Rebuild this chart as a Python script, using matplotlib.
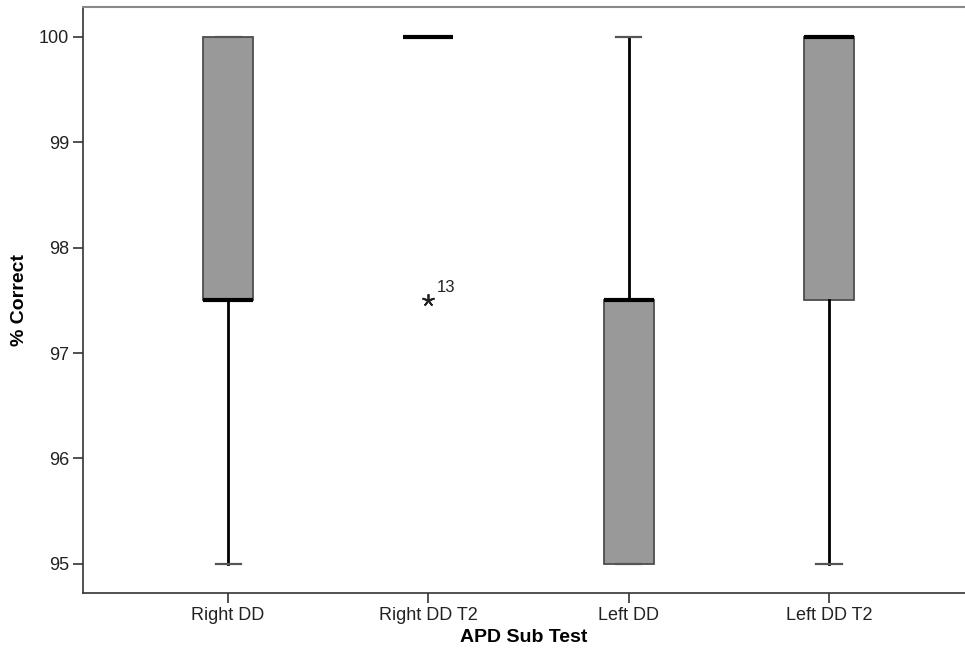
import matplotlib
matplotlib.use("Agg")
import matplotlib.pyplot as plt

# box statistics (% correct)
groups = ["Right DD", "Right DD T2", "Left DD", "Left DD T2"]
q1 = [97.5, 100.0, 95.0, 97.5]
median = [97.5, 100.0, 97.5, 100.0]
q3 = [100.0, 100.0, 97.5, 100.0]
whis_lo = [95.0, 100.0, 95.0, 95.0]
whis_hi = [100.0, 100.0, 100.0, 100.0]
fliers = [[], [97.5], [], []]
flier_labels = [[], ["13"], [], []]

plt.rcParams['font.family'] = ['Liberation Sans', 'DejaVu Sans']

fig = plt.figure(figsize=(9.65, 6.48), dpi=100)
ax = fig.add_axes([83 / 965, 1 - 593 / 648, 882 / 965, 586 / 648])

stats = []
for i, g in enumerate(groups):
    stats.append(dict(label=g, q1=q1[i], med=median[i], q3=q3[i],
                      whislo=whis_lo[i], whishi=whis_hi[i], fliers=fliers[i]))

pos = list(range(1, len(groups) + 1))
ax.bxp(stats, positions=pos, widths=0.25, capwidths=0.125,
       patch_artist=True, showfliers=True,
       boxprops=dict(facecolor="#999999", edgecolor="#4d4d4d", linewidth=1.3),
       medianprops=dict(color="black", linewidth=3, solid_capstyle="butt"),
       whiskerprops=dict(color="black", linewidth=2),
       capprops=dict(color="#555555", linewidth=1.6),
       flierprops=dict(marker=(5, 2, 0), markerfacecolor="black", markeredgecolor="#222222",
                       markeredgewidth=1.3, markersize=9, linestyle="none"))

for i, vals in enumerate(fliers):
    for v, lab in zip(vals, flier_labels[i]):
        ax.annotate(lab, (pos[i], v), xytext=(6, 4), textcoords="offset points",
                    fontsize=12, color="#222222", va="bottom", ha="left")

ax.set_xlim(0.276, 4.679)
ax.set_ylim(94.725, 100.28)
ax.set_yticks([95, 96, 97, 98, 99, 100])
ax.set_xticks(pos)
ax.set_xticklabels(groups)

ax.spines["right"].set_visible(False)
ax.spines["top"].set_color("#888888")
ax.spines["top"].set_linewidth(1.5)
for s in ("left", "bottom"):
    ax.spines[s].set_color("#333333")
    ax.spines[s].set_linewidth(1.2)

ax.tick_params(axis="both", direction="out", length=7, width=1.2, color="#333333",
               labelsize=13, labelcolor="#222222", pad=3)

ax.set_xlabel("APD Sub Test", fontsize=14, fontweight="bold", labelpad=4)
ax.set_ylabel("% Correct", fontsize=14, fontweight="bold", labelpad=8)

fig.savefig("out.png", dpi=100)
